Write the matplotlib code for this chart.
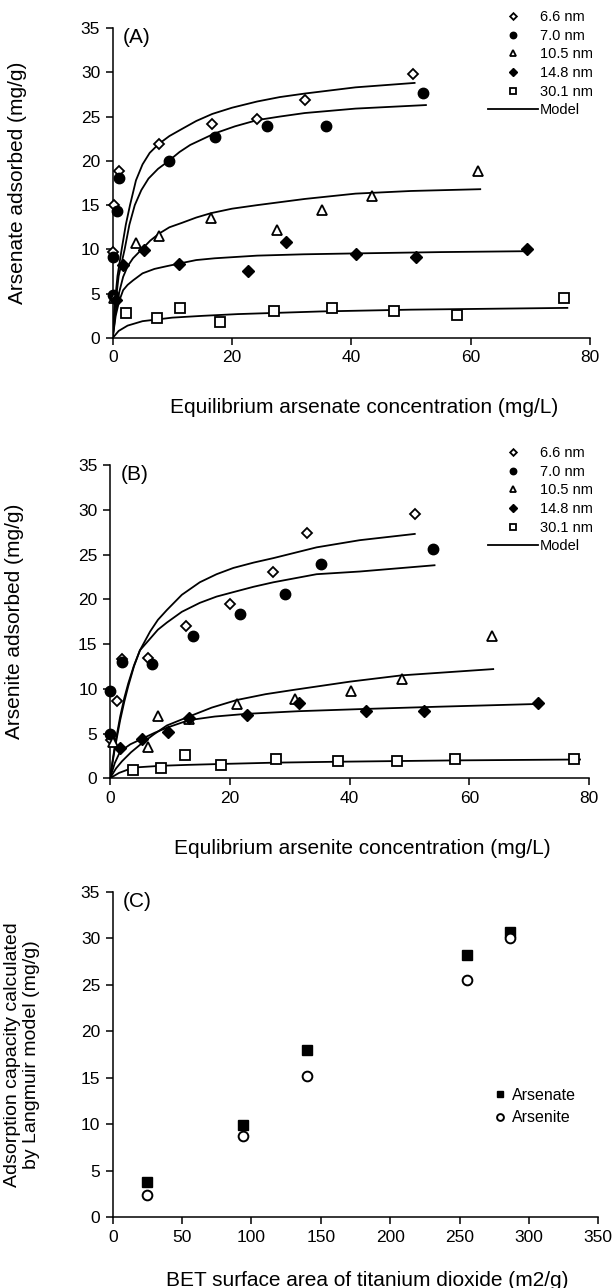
import matplotlib.pyplot as plt
from matplotlib.lines import Line2D

plt.rcParams['font.family'] = ['Liberation Sans', 'DejaVu Sans']

sizes = ['6.6 nm', '7.0 nm', '10.5 nm', '14.8 nm', '30.1 nm']

# ---- (A) arsenate: measured points ----
a66_x = [0, 0.2, 1.1, 7.7, 16.7, 24.2, 32.2, 50.3]
a66_y = [9.7, 15.0, 18.9, 21.9, 24.2, 24.7, 26.9, 29.8]
a70_x = [0, 0, 0.7, 1.1, 9.4, 17.1, 25.9, 35.8, 52.0]
a70_y = [4.9, 9.1, 14.3, 18.1, 20.0, 22.7, 23.9, 23.9, 27.7]
a105_x = [0.2, 3.9, 7.8, 16.5, 27.6, 35.1, 43.5, 61.2]
a105_y = [4.5, 10.7, 11.5, 13.5, 12.2, 14.5, 16.0, 18.8]
a148_x = [0.5, 1.7, 5.3, 11.1, 22.6, 29.1, 40.7, 50.9, 69.5]
a148_y = [4.3, 8.2, 9.9, 8.4, 7.6, 10.8, 9.5, 9.1, 10.1]
a301_x = [2.3, 7.5, 11.3, 18.0, 27.0, 36.8, 47.1, 57.7, 75.7]
a301_y = [2.8, 2.3, 3.4, 1.8, 3.0, 3.4, 3.0, 2.6, 4.5]

# ---- (A) model curves ----
a66_mx = [0, 0.3, 0.8, 1.5, 2.2, 2.9, 3.9, 5.0, 6.2, 7.7, 9.5, 11.6, 14.0, 16.7, 20.0,
          24.2, 28.0, 32.2, 40.7, 50.6]
a66_my = [0, 3.5, 7.0, 10.0, 12.8, 15.0, 17.8, 19.6, 20.9, 21.9, 22.8, 23.6, 24.5, 25.3, 26.0,
          26.7, 27.2, 27.6, 28.3, 28.8]
a70_mx = [0, 0.4, 1.0, 2.0, 2.8, 3.7, 4.8, 6.0, 7.6, 9.4, 11.2, 13.0, 17.1, 20.5, 24.2,
          28.0, 32.2, 40.7, 52.5]
a70_my = [0, 3.5, 7.0, 10.0, 12.8, 15.0, 16.7, 18.0, 19.1, 20.0, 21.0, 21.8, 23.1, 23.9, 24.6,
          25.0, 25.4, 25.9, 26.3]
a105_mx = [0, 0.5, 1.1, 1.75, 2.5, 3.4, 5.0, 6.3, 7.8, 9.5, 11.6, 14.0, 16.5, 20.0, 24.2,
           32.2, 40.7, 50.0, 61.6]
a105_my = [0, 3.0, 5.2, 6.9, 8.1, 9.0, 10.1, 11.0, 11.8, 12.5, 13.0, 13.6, 14.1, 14.6, 15.0,
           15.7, 16.3, 16.6, 16.8]
a148_mx = [0, 0.5, 1.1, 1.75, 2.5, 3.4, 5.0, 7.0, 9.0, 11.1, 14.0, 17.1, 24.2, 32.0, 40.7,
           55.0, 69.3]
a148_my = [0, 2.5, 4.2, 5.4, 6.0, 6.5, 7.3, 7.8, 8.1, 8.4, 8.8, 9.0, 9.3, 9.45, 9.55, 9.7, 9.8]
a301_mx = [0, 1.0, 2.5, 4.0, 5.0, 7.5, 10.0, 15.0, 21.0, 35.0, 50.0, 76.2]
a301_my = [0, 0.8, 1.4, 1.7, 1.9, 2.1, 2.3, 2.5, 2.7, 3.0, 3.2, 3.4]

# ---- (B) arsenite: measured points ----
b66_x = [0.1, 1.1, 1.95, 6.4, 12.7, 20.0, 27.2, 32.9, 50.9]
b66_y = [4.3, 8.6, 13.3, 13.4, 17.05, 19.5, 23.0, 27.4, 29.5]
b70_x = [0, 0, 1.95, 7.0, 13.8, 21.7, 29.3, 35.2, 53.9]
b70_y = [5.0, 9.75, 13.0, 12.8, 15.9, 18.4, 20.6, 23.9, 25.6]
b105_x = [0.45, 6.4, 8.1, 13.2, 21.2, 30.9, 40.2, 48.7, 63.8]
b105_y = [4.1, 3.5, 7.0, 6.6, 8.3, 8.9, 9.8, 11.1, 15.9]
b148_x = [1.7, 5.3, 9.7, 13.2, 22.8, 31.6, 42.7, 52.4, 71.5]
b148_y = [3.35, 4.4, 5.2, 6.7, 7.1, 8.4, 7.5, 7.5, 8.4]
b301_x = [3.9, 8.6, 12.5, 18.5, 27.7, 38.0, 47.9, 57.6, 77.5]
b301_y = [0.93, 1.1, 2.6, 1.5, 2.15, 1.93, 1.93, 2.15, 2.15]

# ---- (B) model curves ----
b66_mx = [0, 0.8, 1.7, 2.4, 3.05, 4.0, 5.0, 6.7, 8.0, 9.5, 12.0, 15.0, 17.8, 20.6, 24.0,
          27.3, 34.5, 41.7, 50.9]
b66_my = [0, 3.3, 6.5, 8.6, 10.3, 12.5, 14.3, 16.4, 17.7, 18.8, 20.5, 21.9, 22.8, 23.5, 24.1,
          24.6, 25.8, 26.6, 27.3]
b70_mx = [0, 0.8, 1.7, 2.4, 3.05, 4.0, 5.0, 6.7, 8.0, 9.5, 12.0, 15.0, 17.8, 20.6, 24.0,
          27.3, 34.5, 41.7, 54.2]
b70_my = [0, 3.6, 6.9, 9.0, 10.6, 12.6, 14.3, 15.6, 16.6, 17.4, 18.6, 19.6, 20.3, 20.8, 21.4,
          21.9, 22.8, 23.1, 23.8]
b105_mx = [0, 1.0, 2.0, 3.5, 5.3, 7.3, 9.5, 13.2, 17.0, 21.2, 26.0, 30.9, 40.1, 48.7, 64.0]
b105_my = [0, 1.1, 1.9, 2.9, 3.9, 4.9, 5.9, 6.9, 7.9, 8.75, 9.4, 9.9, 10.8, 11.5, 12.2]
b148_mx = [0, 0.8, 1.7, 3.4, 5.3, 7.5, 9.7, 13.2, 17.5, 22.8, 31.6, 42.7, 55.0, 71.2]
b148_my = [0, 1.7, 3.0, 3.8, 4.4, 5.1, 5.7, 6.5, 6.9, 7.2, 7.5, 7.75, 8.0, 8.3]
b301_mx = [0, 1.5, 3.9, 8.6, 13.0, 18.5, 27.7, 38.0, 57.6, 78.5]
b301_my = [0, 0.6, 1.2, 1.4, 1.5, 1.6, 1.75, 1.85, 2.0, 2.1]

# ---- (C) Langmuir capacity vs BET area ----
bet = [24.5, 94.1, 140.3, 255.1, 286.3]
cap_arsenate = [3.8, 9.9, 18.0, 28.2, 30.7]
cap_arsenite = [2.4, 8.7, 15.2, 25.5, 30.0]

styles = [
    dict(marker='D', ms=5.5, mfc='white', mec='black', mew=1.3),
    dict(marker='o', ms=7.5, mfc='black', mec='black', mew=1.0),
    dict(marker='^', ms=7.5, mfc='white', mec='black', mew=1.3),
    dict(marker='D', ms=6.0, mfc='black', mec='black', mew=1.0),
    dict(marker='s', ms=7.0, mfc='white', mec='black', mew=1.3),
]

W, H = 612, 1288
fig = plt.figure(figsize=(6.12, 12.88), dpi=100)


def style_axes(ax):
    for s in ['top', 'right']:
        ax.spines[s].set_visible(False)
    for s in ['left', 'bottom']:
        ax.spines[s].set_linewidth(1.1)
    ax.tick_params(direction='out', length=5, width=1.1, labelsize=12.5, pad=4)


def isotherm_panel(rect, pts, models, xlabel, ylabel, tag, leg_top):
    ax = fig.add_axes(rect)
    for mx, my in models:
        ax.plot(mx, my, color='black', lw=1.3, zorder=2)
    for (x, y), st in zip(pts, styles):
        ax.plot(x, y, ls='none', zorder=3, clip_on=False, **st)
    ax.set_xlim(0, 80)
    ax.set_ylim(0, 35)
    ax.set_xticks(range(0, 81, 20))
    ax.set_yticks(range(0, 36, 5))
    style_axes(ax)
    ax.set_xlabel(xlabel, fontsize=15)
    ax.xaxis.set_label_coords(0.527, -0.195)
    ax.set_ylabel(ylabel, fontsize=15)
    ax.yaxis.set_label_coords(-0.18, 0.5)
    ax.text(0.022, 0.97, tag, transform=ax.transAxes, fontsize=15, va='center')

    handles = []
    for lab, st in zip(sizes, styles):
        st2 = dict(st)
        st2['ms'] = st['ms'] * 0.62
        handles.append(Line2D([], [], ls='none', label=lab, **st2))
    handles.append(Line2D([], [], color='black', lw=1.3, label='Model'))
    ax.legend(handles=handles, loc='upper left', frameon=False, fontsize=10.5,
              bbox_to_anchor=(488 / W, 1 - leg_top / H), bbox_transform=fig.transFigure,
              borderaxespad=0, borderpad=0, handlelength=3.4, handletextpad=0.15,
              labelspacing=0.32)
    return ax


isotherm_panel([112.7 / W, 1 - 338 / H, 477.3 / W, 310 / H],
               [(a66_x, a66_y), (a70_x, a70_y), (a105_x, a105_y), (a148_x, a148_y), (a301_x, a301_y)],
               [(a66_mx, a66_my), (a70_mx, a70_my), (a105_mx, a105_my), (a148_mx, a148_my), (a301_mx, a301_my)],
               'Equilibrium arsenate concentration (mg/L)', 'Arsenate adsorbed (mg/g)', '(A)', 10)

isotherm_panel([110 / W, 1 - 778.3 / H, 479 / W, 313.3 / H],
               [(b66_x, b66_y), (b70_x, b70_y), (b105_x, b105_y), (b148_x, b148_y), (b301_x, b301_y)],
               [(b66_mx, b66_my), (b70_mx, b70_my), (b105_mx, b105_my), (b148_mx, b148_my), (b301_mx, b301_my)],
               'Equlibrium arsenite concentration (mg/L)', 'Arsenite adsorbed (mg/g)', '(B)', 446)

# ---- panel C ----
axc = fig.add_axes([112.7 / W, 1 - 1217 / H, 485.6 / W, 325 / H])
axc.plot(bet, cap_arsenate, ls='none', marker='s', ms=7, mfc='black', mec='black',
         label='Arsenate', clip_on=False)
axc.plot(bet, cap_arsenite, ls='none', marker='o', ms=7, mfc='white', mec='black', mew=1.4,
         label='Arsenite', clip_on=False)
axc.set_xlim(0, 350)
axc.set_ylim(0, 35)
axc.set_xticks(range(0, 351, 50))
axc.set_yticks(range(0, 36, 5))
style_axes(axc)
axc.set_xlabel('BET surface area of titanium dioxide (m2/g)', fontsize=15)
axc.xaxis.set_label_coords(0.525, -0.165)
axc.set_ylabel('Adsorption capacity calculated\nby Langmuir model (mg/g)', fontsize=14,
               linespacing=1.15)
axc.yaxis.set_label_coords(-0.15, 0.5)
axc.text(0.02, 0.97, '(C)', transform=axc.transAxes, fontsize=15, va='center')
axc.legend(loc='upper left', frameon=False, fontsize=11.5, markerscale=0.7,
           bbox_to_anchor=(493 / W, 1 - 1088 / H), bbox_transform=fig.transFigure,
           borderaxespad=0, borderpad=0, handlelength=0.9, handletextpad=0.3,
           labelspacing=0.45)

fig.savefig('out.png', dpi=100)
